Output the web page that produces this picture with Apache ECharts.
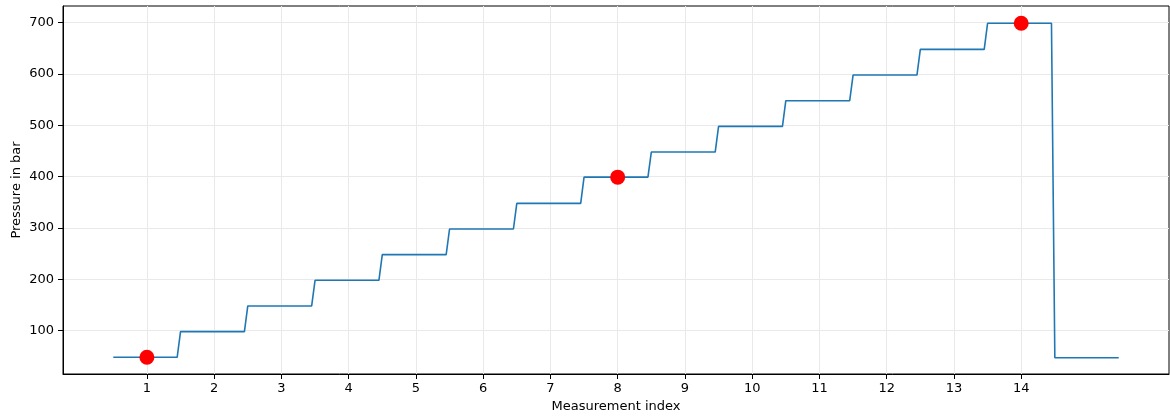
<!DOCTYPE html>
<html><head><meta charset="utf-8">
<script src="https://cdn.jsdelivr.net/npm/echarts@6/dist/echarts.min.js"></script>
<style>html,body{margin:0;padding:0;background:#fff}#c{width:1170px;height:417px}</style>
</head><body><div id="c"></div>
<script>
// Step line: [x, pressure] vertices (plateau start / plateau end)
const lineX = [0.5,1.45, 1.5,2.45, 2.5,3.45, 3.5,4.45, 4.5,5.45, 5.5,6.45, 6.5,7.45, 7.5,8.45, 8.5,9.45, 9.5,10.45, 10.5,11.45, 11.5,12.45, 12.5,13.45, 13.5,14.45, 14.5,15.45];
const lineY = [48,48, 98,98, 148,148, 198,198, 248,248, 298,298, 348,348, 399,399, 448,448, 498,498, 548,548, 598,598, 648,648, 699,699, 47,47];
// Highlighted points
const markX = [1, 8, 14];
const markY = [48, 399, 699];
const xTicks = [1,2,3,4,5,6,7,8,9,10,11,12,13,14];
const yTicks = [100,200,300,400,500,600,700];

const chart = echarts.init(document.getElementById('c'), null, {renderer:'canvas'});
const font = 'DejaVu Sans';
chart.setOption({
  animation:false,
  backgroundColor:'#fff',
  grid:{left:63,right:1,top:6,bottom:43,show:true,borderColor:'#000',borderWidth:1,
        containLabel:false,outerBoundsMode:'none'},
  xAxis:{type:'value',min:-0.2475,max:16.1975,
    name:'Measurement index',nameLocation:'middle',nameGap:26,nameMoveOverlap:false,
    nameTextStyle:{fontFamily:font,fontSize:13,color:'#000'},
    axisLine:{show:true,onZero:false,lineStyle:{color:'#000',width:1}},
    axisTick:{show:true,length:5,customValues:xTicks,lineStyle:{color:'#000'}},
    axisLabel:{customValues:xTicks,fontFamily:font,fontSize:13,color:'#000',margin:8},
    splitLine:{show:true,lineStyle:{color:'#e9e9e9',width:1}}
  },
  yAxis:{type:'value',min:15.4,max:732.6,
    name:'Pressure in bar',nameLocation:'middle',nameGap:40,nameRotate:90,nameMoveOverlap:false,
    nameTextStyle:{fontFamily:font,fontSize:13,color:'#000'},
    axisLine:{show:true,onZero:false,lineStyle:{color:'#000',width:1}},
    axisTick:{show:true,length:5,customValues:yTicks,lineStyle:{color:'#000'}},
    axisLabel:{customValues:yTicks,fontFamily:font,fontSize:13,color:'#000',margin:9},
    splitLine:{show:true,lineStyle:{color:'#e9e9e9',width:1}}
  },
  series:[
    {type:'line',data:lineX.map((x,i)=>[x,lineY[i]]),showSymbol:false,
     lineStyle:{color:'#1f77b4',width:1.6},z:2},
    {type:'scatter',data:markX.map((x,i)=>[x,markY[i]]),symbolSize:15,
     itemStyle:{color:'#ff0000',opacity:1},z:3}
  ]
});
</script></body></html>
